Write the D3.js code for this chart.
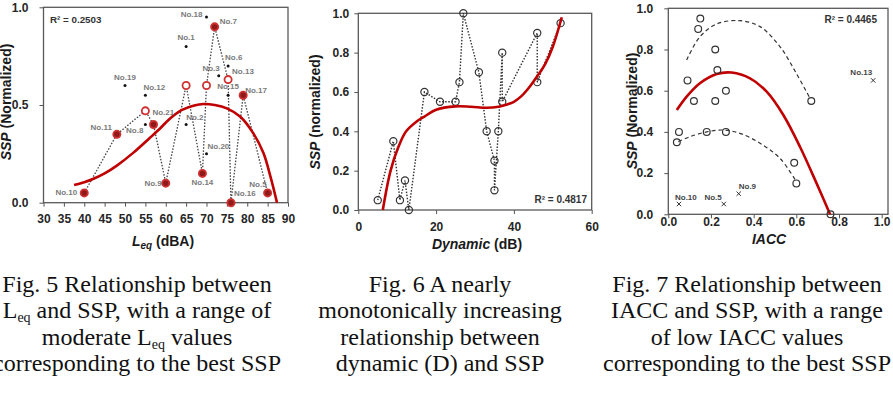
<!DOCTYPE html>
<html><head><meta charset="utf-8">
<script src="https://cdn.jsdelivr.net/npm/d3@7"></script>
<style>
body{margin:0;background:#fff;}
svg{display:block;}
</style></head><body>
<svg id="c" width="893" height="400"></svg>
<script>
// ================= Fig. 5 : Leq vs SSP =================
const leqTicksX = [30,35,40,45,50,55,60,65,70,75,80,85,90];
const leqTicksY = [0,0.5,1];
const leqX    = [40,48,55,57,60,65,69,70,72,75.3,76,79,85];
const leqY    = [0.05,0.35,0.47,0.40,0.10,0.60,0.15,0.60,0.90,0.63,0.00,0.55,0.05];
const leqKind = ["filled","filled","open","filled","filled","open","filled","open","filled","open","filled","filled","filled"];
const leqName = ["No.10","No.11","No.21","","No.9","","No.14","","No.7","No.13","No.16","No.17","No.5"];
const leqDotX = [70,65,50,55,55,65,70,75.3,73,75.3];
const leqDotY = [0.95,0.80,0.60,0.55,0.40,0.40,0.25,0.70,0.65,0.55];
const leqDotName = ["No.18","No.1","No.19","No.12","No.8","No.2","No.20","No.6","No.3","No.15"];
const leqFitX = [37.5,40,42,45,48,52,56,58.6,61,64,67,69.3,72,75,78.3,81.5,84,85.7,87.3];
const leqFitY = [0.09,0.105,0.12,0.15,0.19,0.255,0.33,0.38,0.43,0.475,0.498,0.505,0.5,0.483,0.44,0.355,0.253,0.133,0.0];
const leqR2 = "R² = 0.2503";

// ================= Fig. 6 : Dynamic vs SSP =================
const dynTicksX = [0,20,40,60];
const dynTicksY = [0,0.2,0.4,0.6,0.8,1.0];
const dynX = [5,9,10.7,12,13,17,21,25,26,27,31,33,35,35,36,37,37,46,46,52];
const dynY = [0.05,0.35,0.05,0.15,0.0,0.60,0.55,0.55,0.65,1.0,0.70,0.40,0.25,0.10,0.40,0.80,0.55,0.90,0.65,0.95];
const dynFitX = [6.3,8.3,10.3,12.3,15,17,20,25,29,33,36,38,40,42,44,46,48,50,52.3];
const dynFitY = [0,0.2,0.32,0.4,0.45,0.475,0.51,0.527,0.525,0.52,0.525,0.535,0.55,0.58,0.625,0.68,0.74,0.83,0.98];
const dynR2 = "R² = 0.4817";

// ================= Fig. 7 : IACC vs SSP =================
const iaccTicksX = [0,0.2,0.4,0.6,0.8,1.0];
const iaccTicksY = [0,0.2,0.4,0.6,0.8,1.0];
const iaccX = [0.15,0.14,0.22,0.09,0.23,0.12,0.22,0.27,0.05,0.04,0.18,0.27,0.67,0.59,0.60,0.76];
const iaccY = [0.95,0.90,0.80,0.65,0.70,0.55,0.55,0.60,0.40,0.35,0.40,0.40,0.55,0.25,0.15,0.0];
const crossX = [0.05,0.26,0.33,0.96];
const crossY = [0.05,0.05,0.10,0.65];
const crossName = ["No.10","No.5","No.9","No.13"];
const iaccFitX = [0.04,0.086,0.148,0.227,0.297,0.383,0.461,0.539,0.617,0.695,0.758];
const iaccFitY = [0.506,0.571,0.636,0.681,0.688,0.66,0.595,0.482,0.328,0.15,0.0];
const upperX = [0.086,0.148,0.227,0.336,0.43,0.523,0.60,0.664];
const upperY = [0.749,0.862,0.924,0.94,0.911,0.814,0.684,0.563];
const lowerX = [0.047,0.102,0.18,0.258,0.336,0.43,0.523,0.60];
const lowerY = [0.353,0.377,0.40,0.409,0.393,0.345,0.272,0.159];
const iaccR2 = "R² = 0.4465";

// ================= Captions =================
const cap5 = ["Fig. 5 Relationship between","L{eq} and SSP, with a range of","moderate L{eq} values","corresponding to the best SSP"];
const cap6 = ["Fig. 6 A nearly","monotonically increasing","relationship between","dynamic (D) and SSP"];
const cap7 = ["Fig. 7 Relationship between","IACC and SSP, with a range","of low IACC values","corresponding to the best SSP"];

// ---------------------------------------------------------
const svg = d3.select("#c");
const SANS = "'Liberation Sans', Arial, sans-serif";
const SERIF = "'Liberation Serif', 'Times New Roman', serif";
const RED = "#c00000";

function zip(a,b){ return a.map((v,i)=>[v,b[i]]); }

function panel(cfg){
  const g = svg.append("g");
  const x = d3.scaleLinear().domain(cfg.xDom).range(cfg.xRange);
  const y = d3.scaleLinear().domain([0,1]).range(cfg.yRange);
  const xa = g.append("g").attr("transform",`translate(0,${y(0)})`)
    .call(d3.axisBottom(x).tickValues(cfg.xTicks).tickFormat(cfg.xFmt).tickSize(4).tickPadding(cfg.xPad));
  const ya = g.append("g").attr("transform",`translate(${x(cfg.xDom[0])},0)`)
    .call(d3.axisLeft(y).tickValues(cfg.yTicks).tickFormat(d3.format(".1f")).tickSize(4).tickPadding(cfg.yPad));
  [xa,ya].forEach(a=>{
    a.select(".domain").remove();
    a.selectAll("line").attr("stroke","#555").attr("stroke-width",1);
    a.selectAll("text").attr("font-family",SANS).attr("font-weight","bold")
      .attr("font-size",12).attr("fill","#262626");
  });
  g.append("rect").attr("x",x(cfg.xDom[0])).attr("y",y(1))
    .attr("width",(cfg.frameRight||x(cfg.xDom[1]))-x(cfg.xDom[0])).attr("height",y(0)-y(1))
    .attr("fill","none").attr("stroke","#595959").attr("stroke-width",1.3);
  const xt = g.append("text").attr("x",cfg.xTitlePos[0]).attr("y",cfg.xTitlePos[1])
    .attr("text-anchor","middle").attr("dominant-baseline","central")
    .attr("font-family",SANS).attr("font-weight","bold").attr("font-size",14).attr("fill","#1a1a1a");
  cfg.xTitle(xt);
  const yt = g.append("text").attr("transform",`translate(${cfg.yTitlePos[0]},${cfg.yTitlePos[1]}) rotate(-90)`)
    .attr("text-anchor","middle").attr("dominant-baseline","central")
    .attr("font-family",SANS).attr("font-weight","bold").attr("font-size",14).attr("fill","#1a1a1a");
  yt.append("tspan").attr("font-style","italic").text("SSP");
  yt.append("tspan").text(" " + cfg.yTitleRest);
  return {g,x,y};
}

// ---------------- Panel 1 ----------------
{
  const p = panel({xDom:[30,90], xRange:[43.5,288], yRange:[202.7,7.3],
    xTicks:leqTicksX, yTicks:leqTicksY, xFmt:d3.format("d"), xPad:8, yPad:11,
    xTitlePos:[163,241], yTitlePos:[6,102], yTitleRest:"(Normalized)",
    xTitle:t=>{ t.append("tspan").attr("font-style","italic").text("L");
      t.append("tspan").attr("font-style","italic").attr("font-size",10).attr("dy",4).text("eq");
      t.append("tspan").attr("dy",-4).text(" (dBA)"); }});
  const {g,x,y} = p;
  const line = d3.line().x(d=>x(d[0])).y(d=>y(d[1]));
  g.append("path").attr("d",line(zip(leqX,leqY))).attr("fill","none")
    .attr("stroke","#404040").attr("stroke-width",1.3).attr("stroke-dasharray","1.5,1.6");
  g.append("path").attr("d",line.curve(d3.curveCatmullRom.alpha(0.5))(zip(leqFitX,leqFitY)))
    .attr("fill","none").attr("stroke",RED).attr("stroke-width",2.6);
  g.selectAll(".dot").data(zip(leqDotX,leqDotY)).join("circle")
    .attr("cx",d=>x(d[0])).attr("cy",d=>y(d[1])).attr("r",1.5).attr("fill","#111");
  g.selectAll(".rc").data(leqX.map((v,i)=>({x:v,y:leqY[i],k:leqKind[i]}))).join("circle")
    .attr("cx",d=>x(d.x)).attr("cy",d=>y(d.y)).attr("r",3.6)
    .attr("fill",d=>d.k==="filled"?"#8e1a1a":"#fff")
    .attr("stroke","#d03030").attr("stroke-width",1.8);
  const off = {"No.10":[-7,0,"end"],"No.11":[-5,-7,"end"],"No.21":[7,2,"start"],"No.9":[-4,0,"end"],
    "No.14":[0,9,"middle"],"No.7":[5,-5,"start"],"No.13":[4,-8,"start"],"No.16":[3,-9,"start"],
    "No.17":[2,-5,"start"],"No.5":[-1,-8,"end"],"No.18":[-4,-3,"end"],"No.1":[0,-9,"middle"],
    "No.19":[0,-8,"middle"],"No.12":[-2,-8,"start"],"No.8":[-2,6,"end"],"No.2":[0,-7,"start"],
    "No.20":[1,-7,"start"],"No.6":[-3,-8,"start"],"No.3":[1,-7,"end"],"No.15":[0,-9,"middle"]};
  const labs = leqX.map((v,i)=>({x:v,y:leqY[i],n:leqName[i]}))
    .concat(leqDotX.map((v,i)=>({x:v,y:leqDotY[i],n:leqDotName[i]}))).filter(d=>d.n);
  g.selectAll(".lab").data(labs).join("text")
    .attr("x",d=>x(d.x)+off[d.n][0]).attr("y",d=>y(d.y)+off[d.n][1])
    .attr("text-anchor",d=>off[d.n][2]).attr("dominant-baseline","central")
    .attr("font-family",SANS).attr("font-weight","bold").attr("font-size",8).attr("fill","#7a7a7a")
    .text(d=>d.n);
  g.append("text").attr("x",50).attr("y",19.5).attr("dominant-baseline","central")
    .attr("font-family",SANS).attr("font-weight","bold").attr("font-size",9.8).attr("fill","#333").text(leqR2);
}

// ---------------- Panel 2 ----------------
{
  const p = panel({xDom:[0,60], xRange:[358.3,591.7], yRange:[210,13.3],
    xTicks:dynTicksX, yTicks:dynTicksY, xFmt:d3.format("d"), xPad:8, yPad:5,
    xTitlePos:[477,244], yTitlePos:[315,112], yTitleRest:"(normalized)",
    xTitle:t=>{ t.append("tspan").attr("font-style","italic").text("Dynamic");
      t.append("tspan").text(" (dB)"); }});
  const {g,x,y} = p;
  const line = d3.line().x(d=>x(d[0])).y(d=>y(d[1]));
  g.append("path").attr("d",line(zip(dynX,dynY))).attr("fill","none")
    .attr("stroke","#303030").attr("stroke-width",1.4).attr("stroke-dasharray","1.5,1.6");
  g.selectAll(".pt").data(zip(dynX,dynY)).join("circle")
    .attr("cx",d=>x(d[0])).attr("cy",d=>y(d[1])).attr("r",3.6)
    .attr("fill","none").attr("stroke","#333").attr("stroke-width",1.2);
  g.append("path").attr("d",line.curve(d3.curveCatmullRom.alpha(0.5))(zip(dynFitX,dynFitY)))
    .attr("fill","none").attr("stroke",RED).attr("stroke-width",2.6);
  g.append("text").attr("x",587).attr("y",199.5).attr("text-anchor","end").attr("dominant-baseline","central")
    .attr("font-family",SANS).attr("font-weight","bold").attr("font-size",10).attr("fill","#333").text(dynR2);
}

// ---------------- Panel 3 ----------------
{
  const p = panel({xDom:[0,1], xRange:[668.3,881.7], yRange:[214.3,8.3], frameRight:888,
    xTicks:iaccTicksX, yTicks:iaccTicksY, xFmt:d3.format(".1f"), xPad:-1, yPad:11,
    xTitlePos:[769,239], yTitlePos:[632,111], yTitleRest:"(Normalized)",
    xTitle:t=>{ t.append("tspan").attr("font-style","italic").text("IACC"); }});
  const {g,x,y} = p;
  const line = d3.line().x(d=>x(d[0])).y(d=>y(d[1])).curve(d3.curveCatmullRom.alpha(0.5));
  [[upperX,upperY],[lowerX,lowerY]].forEach(([a,b])=>{
    g.append("path").attr("d",line(zip(a,b))).attr("fill","none")
      .attr("stroke","#333").attr("stroke-width",1.2).attr("stroke-dasharray","4,3");
  });
  g.append("path").attr("d",line(zip(iaccFitX,iaccFitY))).attr("fill","none")
    .attr("stroke",RED).attr("stroke-width",2.6);
  g.selectAll(".pt").data(zip(iaccX,iaccY)).join("circle")
    .attr("cx",d=>x(d[0])).attr("cy",d=>y(d[1])).attr("r",3.4)
    .attr("fill","none").attr("stroke","#333").attr("stroke-width",1.2);
  g.selectAll(".cr").data(zip(crossX,crossY)).join("path")
    .attr("d",d=>{const cx=x(d[0]),cy=y(d[1]),s=2.2;
      return `M${cx-s},${cy-s}L${cx+s},${cy+s}M${cx-s},${cy+s}L${cx+s},${cy-s}`;})
    .attr("stroke","#333").attr("stroke-width",1);
  const off = {"No.10":[-4,-7,"start"],"No.5":[-2,-7,"end"],"No.9":[0,-7,"start"],"No.13":[-1,-8,"end"]};
  g.selectAll(".lab").data(crossX.map((v,i)=>({x:v,y:crossY[i],n:crossName[i]}))).join("text")
    .attr("x",d=>x(d.x)+off[d.n][0]).attr("y",d=>y(d.y)+off[d.n][1])
    .attr("text-anchor",d=>off[d.n][2]).attr("dominant-baseline","central")
    .attr("font-family",SANS).attr("font-weight","bold").attr("font-size",8).attr("fill","#444")
    .text(d=>d.n);
  g.append("text").attr("x",877).attr("y",19).attr("text-anchor","end").attr("dominant-baseline","central")
    .attr("font-family",SANS).attr("font-weight","bold").attr("font-size",10).attr("fill","#333").text(iaccR2);
}

// ---------------- Captions ----------------
const capBase = [291.5,318,344.5,371];
[[cap5,137],[cap6,440],[cap7,747]].forEach(([lines,cx])=>{
  lines.forEach((ln,i)=>{
    const t = svg.append("text").attr("x",cx).attr("y",capBase[i]).attr("text-anchor","middle")
      .attr("font-family",SERIF).attr("font-size",24).attr("fill","#111");
    const parts = ln.split(/(\{[^}]*\})/).filter(s=>s.length);
    let shifted = false;
    parts.forEach(s=>{
      if (s[0]==="{"){
        t.append("tspan").attr("font-size",14).attr("dy",4).text(s.slice(1,-1));
        shifted = true;
      } else {
        const ts = t.append("tspan").text(s);
        if (shifted){ ts.attr("dy",-4); shifted=false; }
      }
    });
  });
});
</script>
</body></html>
